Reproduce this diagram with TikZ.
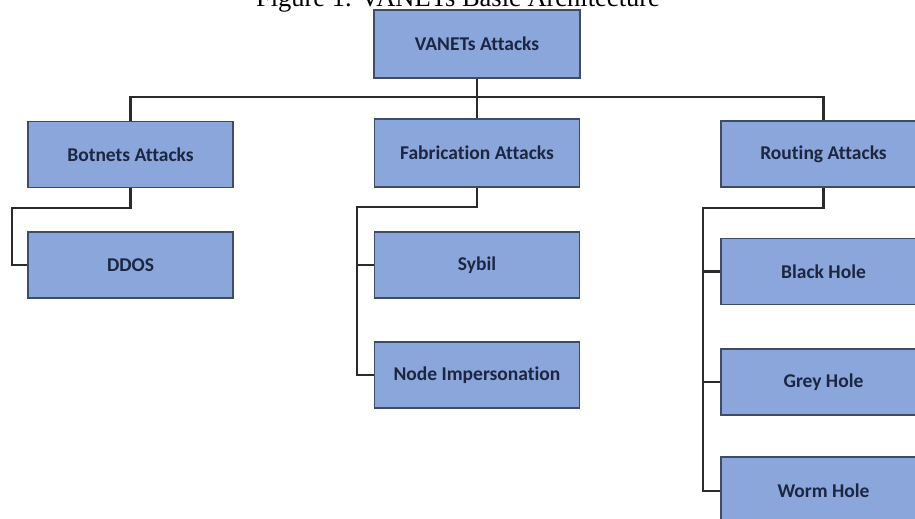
\documentclass[tikz,border=0pt]{standalone}
\usepackage{fontspec}
\setmainfont{Liberation Serif}
\newfontfamily\boxfont[Ligatures=NoCommon]{Carlito}
\definecolor{boxfill}{HTML}{8AA6DA}
\definecolor{boxline}{HTML}{3E4C66}
\definecolor{boxtext}{HTML}{1C2641}
\definecolor{linkcol}{HTML}{2B2B2B}
\tikzset{
  attackbox/.style={rectangle, fill=boxfill, draw=boxline, line width=1.6pt,
    minimum width=205pt, minimum height=66pt, inner sep=0pt,
    font=\boxfont\bfseries\fontsize{19.5}{22}\selectfont, text=boxtext},
  link/.style={draw=linkcol, line width=2.3pt}
}
\begin{document}
\begin{tikzpicture}[x=1pt, y=-1pt]
\useasboundingbox (0,0) rectangle (915,519);
\clip (0,0) rectangle (915,519);
\node[anchor=base, font=\fontsize{26.5}{30}\selectfont] (cap) at (458,7) {Figure 1. VANETs Basic Architecture};
\node[attackbox, minimum width=206pt, minimum height=68pt] (top) at (477,44) {VANETs Attacks};
\node[attackbox] (bot) at (130.5,154.5) {Botnets Attacks};
\node[attackbox] (ddos) at (130.5,265) {DDOS};
\node[attackbox, minimum height=68pt] (fab) at (477,153) {Fabrication Attacks};
\node[attackbox] (sybil) at (477,265) {Sybil};
\node[attackbox] (nimp) at (477,375) {Node Impersonation};
\node[attackbox] (rout) at (823.5,154) {Routing Attacks};
\node[attackbox] (black) at (823.5,271.5) {Black Hole};
\node[attackbox] (grey) at (823.5,382) {Grey Hole};
\node[attackbox, minimum height=68pt] (worm) at (823.5,491) {Worm Hole};
\coordinate (bus) at (0,97);
\coordinate (bl) at (12,208);
\coordinate (fl) at (357,207);
\coordinate (rl) at (703,208);
\path[link] (top.south) -- (fab.north);
\path[link] (bot.north) -- (bot.north |- bus) -- (rout.north |- bus) -- (rout.north);
\path[link] (bot.south) |- (bl) |- (ddos.west);
\path[link] (fab.south) |- (fl) |- (nimp.west);
\path[link] (fl |- sybil.west) -- (sybil.west);
\path[link] (rout.south) |- (rl) |- (worm.west);
\path[link] (rl |- black.west) -- (black.west);
\path[link] (rl |- grey.west) -- (grey.west);
\end{tikzpicture}
\end{document}
